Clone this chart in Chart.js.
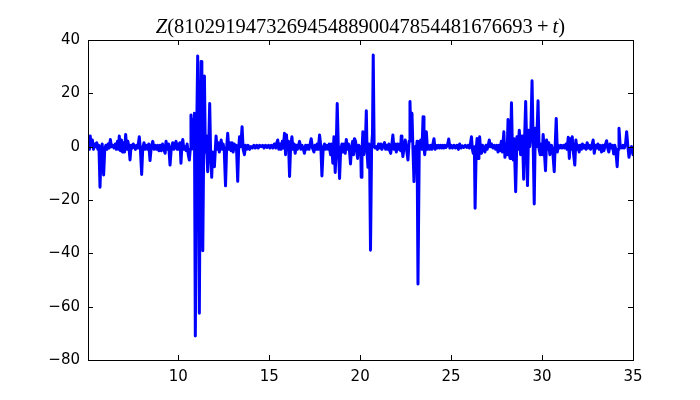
<!DOCTYPE html>
<html>
<head>
<meta charset="utf-8">
<title>Z(t) plot</title>
<script src="https://cdn.jsdelivr.net/npm/chart.js@4/dist/chart.umd.min.js"></script>
<style>
  html, body { margin: 0; padding: 0; background: #ffffff; }
  .chart-box { position: relative; width: 700px; height: 400px; }
  .chart-title {
    position: absolute;
    left: 88px;
    width: 545px;
    top: 13px;
    text-align: center;
    font-family: 'Liberation Serif', 'DejaVu Serif', serif;
    font-size: 20.5px;
    line-height: 26px;
    color: #000000;
    white-space: nowrap;
  }
</style>
</head>
<body>
<div class="chart-box">
  <div class="chart-title"><i>Z</i>(81029194732694548890047854481676693&#8201;+&#8201;<i>t</i>)</div>
  <canvas id="z-chart" width="700" height="400"></canvas>
</div>
<script>
const xTicks = [10, 15, 20, 25, 30, 35];
const yTicks = [-80, -60, -40, -20, 0, 20, 40];

const tValues = [
  5.04, 5.08, 5.12, 5.16, 5.22, 5.28, 5.34, 5.40, 5.46, 5.52, 5.58, 5.64, 5.70, 5.76, 5.82, 5.90, 5.96,
  6.02, 6.08, 6.14, 6.20, 6.27, 6.33, 6.40, 6.47, 6.54, 6.60, 6.66, 6.71, 6.76, 6.82, 6.88, 6.94,
  7.00, 7.05, 7.11, 7.17, 7.23, 7.29, 7.35, 7.41, 7.47, 7.53, 7.59, 7.65, 7.71, 7.78, 7.86, 7.92, 7.99,
  8.05, 8.12, 8.18, 8.25, 8.32, 8.38, 8.45, 8.52, 8.60, 8.67, 8.74, 8.80, 8.87, 8.94,
  9.00, 9.07, 9.14, 9.21, 9.28, 9.33, 9.40, 9.47, 9.55, 9.62, 9.70, 9.76, 9.82, 9.88, 9.94,
  10.00, 10.06, 10.10, 10.15, 10.20, 10.25, 10.31, 10.37, 10.43, 10.49, 10.55, 10.61, 10.66, 10.70,
  10.75, 10.80, 10.85, 10.89, 10.94, 11.00, 11.07, 11.12, 11.16, 11.21, 11.26, 11.30, 11.35, 11.40,
  11.44, 11.49, 11.53, 11.58, 11.62, 11.67, 11.73, 11.78, 11.84, 11.89, 11.94, 11.99,
  12.04, 12.08, 12.14, 12.20, 12.26, 12.31, 12.36, 12.42, 12.47, 12.53, 12.60, 12.66, 12.72, 12.78,
  12.84, 12.90, 12.96, 13.02, 13.08, 13.14, 13.20, 13.27, 13.32, 13.37, 13.44, 13.51, 13.57, 13.64,
  13.70, 13.77, 13.84, 13.92, 14.00, 14.08, 14.16, 14.24, 14.32, 14.40, 14.48, 14.56, 14.64, 14.72,
  14.80, 14.88, 14.96, 15.04, 15.12, 15.20, 15.28, 15.36, 15.42, 15.47, 15.53, 15.60, 15.66, 15.72,
  15.78, 15.84, 15.90, 15.95, 16.00, 16.06, 16.12, 16.18, 16.25, 16.31, 16.37, 16.43, 16.49, 16.55,
  16.61, 16.67, 16.74, 16.81, 16.88, 16.94, 17.00, 17.06, 17.12, 17.19, 17.25, 17.31, 17.38, 17.46,
  17.52, 17.58, 17.64, 17.70, 17.77, 17.84, 17.90, 17.97, 18.04, 18.10, 18.17, 18.24, 18.30, 18.37,
  18.43, 18.50, 18.56, 18.63, 18.69, 18.74, 18.80, 18.87, 18.93, 19.00, 19.06, 19.12, 19.18, 19.24,
  19.30, 19.36, 19.42, 19.47, 19.53, 19.59, 19.64, 19.69, 19.75, 19.80, 19.86, 19.92, 19.98,
  20.03, 20.06, 20.10, 20.15, 20.20, 20.25, 20.30, 20.34, 20.38, 20.43, 20.48, 20.52, 20.57, 20.63,
  20.68, 20.72, 20.77, 20.82, 20.89, 20.95, 21.01, 21.08, 21.14, 21.20, 21.27, 21.34, 21.40, 21.46,
  21.52, 21.58, 21.63, 21.68, 21.74, 21.80, 21.86, 21.92, 21.99, 22.05, 22.11, 22.17, 22.22, 22.26,
  22.30, 22.35, 22.42, 22.48, 22.55, 22.63, 22.69, 22.74, 22.79, 22.85, 22.90, 22.96, 23.02, 23.08,
  23.13, 23.18, 23.25, 23.33, 23.40, 23.46, 23.51, 23.55, 23.60, 23.64, 23.70, 23.76, 23.82, 23.88,
  23.94, 24.00, 24.06, 24.12, 24.18, 24.24, 24.30, 24.36, 24.42, 24.48, 24.54, 24.60, 24.66, 24.72,
  24.80, 24.87, 24.93, 25.00, 25.08, 25.16, 25.24, 25.32, 25.40, 25.47, 25.55, 25.62, 25.70, 25.78,
  25.86, 25.94, 26.00, 26.06, 26.12, 26.17, 26.22, 26.28, 26.32, 26.38, 26.43, 26.48, 26.53, 26.57,
  26.62, 26.67, 26.73, 26.80, 26.86, 26.92, 26.98, 27.04, 27.10, 27.16, 27.22, 27.30, 27.38, 27.45,
  27.52, 27.58, 27.64, 27.70, 27.76, 27.82, 27.90, 27.96, 28.02, 28.08, 28.13, 28.19, 28.24, 28.28,
  28.32, 28.37, 28.42, 28.47, 28.55, 28.62, 28.68, 28.75, 28.82, 28.90, 28.94, 28.99, 29.04, 29.10,
  29.15, 29.20, 29.26, 29.32, 29.38, 29.45, 29.51, 29.57, 29.63, 29.70, 29.78, 29.84, 29.90, 29.96,
  30.01, 30.06, 30.12, 30.19, 30.25, 30.31, 30.37, 30.43, 30.48, 30.52, 30.58, 30.67, 30.72, 30.78,
  30.84, 30.90, 30.97, 31.04, 31.11, 31.18, 31.25, 31.32, 31.38, 31.44, 31.50, 31.55, 31.60, 31.66,
  31.72, 31.80, 31.86, 31.92, 31.98, 32.04, 32.10, 32.16, 32.22, 32.28, 32.35, 32.42, 32.48, 32.54,
  32.60, 32.67, 32.74, 32.81, 32.87, 32.94, 33.00, 33.07, 33.14, 33.20, 33.27, 33.34, 33.40, 33.47,
  33.55, 33.61, 33.67, 33.74, 33.80, 33.87, 33.94, 34.00, 34.05, 34.13, 34.18, 34.23, 34.30, 34.38,
  34.45, 34.52, 34.59, 34.65, 34.72, 34.78, 34.85, 34.92, 35.00
];

const zValues = [
  0, 2, -1, 4, 0.5, 2.5, -1, 1, 0, 1.5, -1, 0.5, -15.2, -2, 1, -10.6, -1,
  0.5, -1, 1, -0.5, 2.7, 0, 0.5, -0.5, 1, -1, 2, -1, 4, -1.5, 2.5, -2,
  1.5, -2, 4.6, -1, 2, 0, -5, 0.5, -0.5, 1, 0, -1, 0.5, -0.5, 3.7, -1, -10.4,
  -0.5, 1.5, -1, 0.5, -1, 1, -5.2, 0, 2, -1, 0.5, -1, 0.5, -1.5,
  0.5, -1.5, 1, -1, -2.5, 2, -1, 1, -6.9, -0.5, 1.5, -1, 1, 2, -1,
  1, -1, 1.5, -6.2, 0, 2.7, -1, 0, -1.5, 1, -3, -5, -1, 11.9,
  2, 10, -1, 12.5, -71, -2, 34, 0, -62.5, -5, 31.9, -3, -39, 0,
  26.5, -2, 4, -3, -9.4, -1, 16.2, -2, -11.5, -2, -4, -7.5,
  -1, 4, -1, 1.5, -2, 0.5, 2.5, -1, 1, -1.5, -14.7, -0.5, 5, -1,
  1.5, -1.5, 1.5, -2, 1, -1, 0.5, -13, -1, 3.7, 0, 7.5, -1, -3,
  0.5, -1, 0.5, -1, 0, -0.5, 0.5, -0.5, 0.5, -0.5, 0.5, 0, 0.5, -0.5,
  0.5, -0.3, 0.5, -0.5, 0.5, -0.5, 1, -0.5, 1.5, 2.5, -1, 1, -1, 2,
  -0.5, 5, -3, 4.5, -1, 2, -11.2, 0, 3.7, -1, 1, -2.5, 0.5, -1,
  0.5, 2, -1, 0.5, -1, -2.5, 0.5, -1, 0.5, -1, 1, 3, -0.5, -2,
  0.5, -1, 1, -1, 4.4, 0, -11, -0.5, 1, -1, 0.5, -1, 1, -3,
  1, -6.2, 3.7, -9.7, 1, 16.2, 0, -11.9, -1, 1, -2, 1, -2.5, 2.7,
  -1, 1, -2, -6.5, 0, 2, -3, 3, 2, -1, -4.4, 0.5, -2,
  0, -11.5, -2, 5.6, -3, 0, 4, 13.5, -2, -7.7, 1, -3, -38.8, 0,
  5, 34.4, 0, -0.5, 0, -1, 1, -0.5, 1, -1, 0.5, 1.5, -1, 0.5,
  -1, 1, -1.5, -2.5, 0.5, 4.4, -1, 1, -2, 1, -1, 1, -1.5, 4,
  0, -3.7, 0, 2.5, -1, -5, 2, 16.9, 3, 12.5, 0, -13.1, 0, -2,
  2, -51.5, -1, 2.5, -1, 11.2, 0, -3, 1, 5.6, -1, 0.5, -1, 0.5,
  -1, 1, 3, -1, 0.5, -0.5, 0.5, -0.5, 0.5, -0.5, 0.5, -0.5, 0.5, -0.3,
  0.5, 2.9, -0.5, 0.5, -0.5, 0.5, -0.5, 0.5, -1, 1, -0.5, 0.3, -0.3, 0.5,
  -0.3, 0.5, -0.5, 1, 3.7, -1, -2.5, 0, -23.1, -1, 3.1, -4.4, 0, 3.7,
  -1, -2.5, 0.5, -0.5, -2, 0.5, -1, 0.5, 2.5, 0, 1, -0.5, 0.5, -1,
  0.5, -2, 0.5, -1.5, 2, -2, 5.6, -4, 1, -3, 10.2, -2, -4.4, 4,
  16.5, -1, -5, 3, -16.9, 3.7, -1, 6.2, -3, 4, 0, -12.2, 3, 16.9,
  2, -14.6, 6.2, 0, 4, 24.7, 2, -21.5, 6.9, 0, 17.2, -1, -3, 1,
  -3, 4.6, -1, -9, 2.5, -1, 1.5, -3, 0, 0.5, -1, -9.4, 0, 10.6,
  -2, 0.5, -0.5, 0.5, -0.5, 0.5, -0.5, 1, -1, 3.5, -4.4, 3, -1, 3.7,
  -2, -6.9, 2.5, -1, 0.5, -2, 0.5, -1, 1, -0.5, 0.5, -1, 1.5, -0.5,
  0.5, -1, 0.5, 2.5, -2.5, 0.5, -0.5, 1, -1, 0.5, -2, 0.5, -1.5, 0.5,
  2.2, -0.5, -2, 1, -0.5, 0.5, -2.7, 0.5, -1, -7.5, -1, 6.9, 0, -0.5,
  0.5, -0.5, 1, 5.6, 0, -4, -1, 0, -3
];

const tickFont = { family: "'DejaVu Sans', sans-serif", size: 15 };

function formatTick(value) {
  // matplotlib draws negative labels with a real minus sign
  return value < 0 ? '\u2212' + Math.abs(value) : String(value);
}

/*
 * Frame and inward tick marks on all four sides, like the classic
 * matplotlib axes box. Only decoration, the line itself comes from the dataset.
 */
const frameTicksPlugin = {
  id: 'frameTicks',
  afterDraw(chart) {
    const { ctx, chartArea, scales } = chart;
    const tickLen = 5;

    ctx.save();
    ctx.strokeStyle = '#000000';
    ctx.lineWidth = 1;

    ctx.beginPath();
    xTicks.forEach((value) => {
      const px = Math.round(scales.x.getPixelForValue(value)) + 0.5;
      ctx.moveTo(px, chartArea.bottom);
      ctx.lineTo(px, chartArea.bottom - tickLen);
      ctx.moveTo(px, chartArea.top);
      ctx.lineTo(px, chartArea.top + tickLen);
    });
    yTicks.forEach((value) => {
      const py = Math.round(scales.y.getPixelForValue(value)) + 0.5;
      ctx.moveTo(chartArea.left, py);
      ctx.lineTo(chartArea.left + tickLen, py);
      ctx.moveTo(chartArea.right, py);
      ctx.lineTo(chartArea.right - tickLen, py);
    });
    ctx.stroke();

    ctx.strokeRect(
      Math.round(chartArea.left) + 0.5,
      Math.round(chartArea.top) + 0.5,
      Math.round(chartArea.right - chartArea.left),
      Math.round(chartArea.bottom - chartArea.top)
    );
    ctx.restore();
  }
};

function renderZChart() {
  const canvas = document.getElementById('z-chart');
  if (!canvas || typeof Chart === 'undefined') return;

  const points = tValues.map((t, i) => ({ x: t, y: zValues[i] }));

  new Chart(canvas, {
    type: 'line',
    data: {
      datasets: [{
        data: points,
        borderColor: '#0000ff',
        borderWidth: 3,
        borderJoinStyle: 'round',
        borderCapStyle: 'round',
        pointRadius: 0,
        tension: 0,
        fill: false
      }]
    },
    options: {
      responsive: false,
      animation: false,
      layout: { padding: { left: 0, right: 67, top: 40, bottom: 0 } },
      plugins: {
        legend: { display: false },
        tooltip: { enabled: false }
      },
      scales: {
        x: {
          type: 'linear',
          min: 5.04,
          max: 35,
          afterBuildTicks: (scale) => { scale.ticks = xTicks.map((value) => ({ value })); },
          afterFit: (scale) => { scale.height = 40; },
          grid: { display: false, drawTicks: false },
          border: { display: false },
          ticks: { color: '#000000', font: tickFont, padding: 8, maxRotation: 0, callback: formatTick }
        },
        y: {
          min: -80,
          max: 40,
          afterBuildTicks: (scale) => { scale.ticks = yTicks.map((value) => ({ value })); },
          afterFit: (scale) => { scale.width = 88; },
          grid: { display: false, drawTicks: false },
          border: { display: false },
          ticks: { color: '#000000', font: tickFont, padding: 8, callback: formatTick }
        }
      }
    },
    plugins: [frameTicksPlugin]
  });
}

renderZChart();
</script>
</body>
</html>
